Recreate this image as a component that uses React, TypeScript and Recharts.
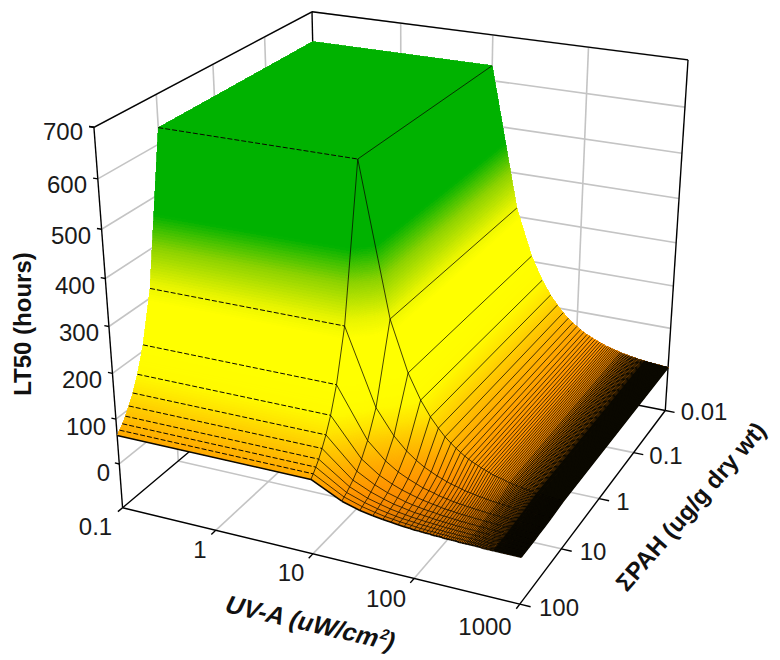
import { ScatterChart, Scatter, XAxis, YAxis } from "recharts";

const uvTicks = [0.1, 1, 10, 100, 1000];
const pahTicks = [0.01, 0.1, 1, 10, 100];
const zTicks = [0, 100, 200, 300, 400, 500, 600, 700];
const zFloor = -100;

const pahGrid = [0.01, 10, 20, 30, 40, 50, 60, 70, 80, 90, 100];
const uvGrid = [
  0.1,
  10, 20, 30, 40, 50, 60, 70, 80, 90, 100,
  110, 120, 130, 140, 150, 160, 170, 180, 190, 200,
  210, 220, 230, 240, 250, 260, 270, 280, 290, 300,
  310, 320, 330, 340, 350, 360, 370, 380, 390, 400,
  410, 420, 430, 440, 450, 460, 470, 480, 490, 500,
  510, 520, 530, 540, 550, 560, 570, 580, 590, 600,
  610, 620, 630, 640, 650, 660, 670, 680, 690, 700,
  710, 720, 730, 740, 750, 760, 770, 780, 790, 800,
  810, 820, 830, 840, 850, 860, 870, 880, 890, 900,
  910, 920, 930, 940, 950, 960, 970, 980, 990, 1000,
];

// LT50, one value per uvGrid entry
const lt50Pah001 = [
  633,
  633, 320, 213, 160, 128, 107, 91, 80, 71, 64,
  58, 53, 49, 46, 43, 40, 38, 36, 34, 32,
  30, 29, 28, 27, 26, 25, 24, 23, 22, 21,
  21, 20, 19, 19, 18, 18, 17, 17, 16, 16,
  16, 15, 15, 15, 14, 14, 14, 13, 13, 13,
  13, 12, 12, 12, 12, 11, 11, 11, 11, 11,
  10, 10, 10, 10, 10, 10, 10, 9, 9, 9,
  9, 9, 9, 9, 9, 8, 8, 8, 8, 8,
  8, 8, 8, 8, 8, 7, 7, 7, 7, 7,
  7, 7, 7, 7, 7, 7, 7, 7, 6, 6,
];
const lt50Pah10 = [
  633,
  633, 320, 213, 160, 128, 107, 91, 80, 71, 64,
  58, 53, 49, 46, 43, 40, 38, 36, 34, 32,
  30, 29, 28, 27, 26, 25, 24, 23, 22, 21,
  21, 20, 19, 19, 18, 18, 17, 17, 16, 16,
  16, 15, 15, 15, 14, 14, 14, 13, 13, 13,
  13, 12, 12, 12, 12, 11, 11, 11, 11, 11,
  10, 10, 10, 10, 10, 10, 10, 9, 9, 9,
  9, 9, 9, 9, 9, 8, 8, 8, 8, 8,
  8, 8, 8, 8, 8, 7, 7, 7, 7, 7,
  7, 7, 7, 7, 7, 7, 7, 7, 6, 6,
];
const lt50Pah20 = [
  320,
  320, 160, 107, 80, 64, 53, 46, 40, 36, 32,
  29, 27, 25, 23, 21, 20, 19, 18, 17, 16,
  15, 15, 14, 13, 13, 12, 12, 11, 11, 11,
  10, 10, 10, 9, 9, 9, 9, 8, 8, 8,
  8, 8, 7, 7, 7, 7, 7, 7, 7, 6,
  6, 6, 6, 6, 6, 6, 6, 6, 5, 5,
  5, 5, 5, 5, 5, 5, 5, 5, 5, 5,
  5, 4, 4, 4, 4, 4, 4, 4, 4, 4,
  4, 4, 4, 4, 4, 4, 4, 4, 4, 4,
  4, 3, 3, 3, 3, 3, 3, 3, 3, 3,
];
const lt50Pah30 = [
  213,
  213, 107, 71, 53, 43, 36, 30, 27, 24, 21,
  19, 18, 16, 15, 14, 13, 13, 12, 11, 11,
  10, 10, 9, 9, 9, 8, 8, 8, 7, 7,
  7, 7, 6, 6, 6, 6, 6, 6, 5, 5,
  5, 5, 5, 5, 5, 5, 5, 4, 4, 4,
  4, 4, 4, 4, 4, 4, 4, 4, 4, 4,
  3, 3, 3, 3, 3, 3, 3, 3, 3, 3,
  3, 3, 3, 3, 3, 3, 3, 3, 3, 3,
  3, 3, 3, 3, 3, 2, 2, 2, 2, 2,
  2, 2, 2, 2, 2, 2, 2, 2, 2, 2,
];
const lt50Pah40 = [
  160,
  160, 80, 53, 40, 32, 27, 23, 20, 18, 16,
  15, 13, 12, 11, 11, 10, 9, 9, 8, 8,
  8, 7, 7, 7, 6, 6, 6, 6, 6, 5,
  5, 5, 5, 5, 5, 4, 4, 4, 4, 4,
  4, 4, 4, 4, 4, 3, 3, 3, 3, 3,
  3, 3, 3, 3, 3, 3, 3, 3, 3, 3,
  3, 3, 2, 2, 2, 2, 2, 2, 2, 2,
  2, 2, 2, 2, 2, 2, 2, 2, 2, 2,
  2, 2, 2, 2, 2, 2, 2, 2, 2, 2,
  2, 2, 2, 2, 2, 2, 2, 2, 2, 2,
];
const lt50Pah50 = [
  128,
  128, 64, 43, 32, 26, 21, 18, 16, 14, 13,
  12, 11, 10, 9, 9, 8, 8, 7, 7, 6,
  6, 6, 6, 5, 5, 5, 5, 5, 4, 4,
  4, 4, 4, 4, 4, 4, 3, 3, 3, 3,
  3, 3, 3, 3, 3, 3, 3, 3, 3, 3,
  3, 2, 2, 2, 2, 2, 2, 2, 2, 2,
  2, 2, 2, 2, 2, 2, 2, 2, 2, 2,
  2, 2, 2, 2, 2, 2, 2, 2, 2, 2,
  2, 2, 2, 2, 2, 1, 1, 1, 1, 1,
  1, 1, 1, 1, 1, 1, 1, 1, 1, 1,
];
const lt50Pah60 = [
  107,
  107, 53, 36, 27, 21, 18, 15, 13, 12, 11,
  10, 9, 8, 8, 7, 7, 6, 6, 6, 5,
  5, 5, 5, 4, 4, 4, 4, 4, 4, 4,
  3, 3, 3, 3, 3, 3, 3, 3, 3, 3,
  3, 3, 2, 2, 2, 2, 2, 2, 2, 2,
  2, 2, 2, 2, 2, 2, 2, 2, 2, 2,
  2, 2, 2, 2, 2, 2, 2, 1, 1, 1,
  1, 1, 1, 1, 1, 1, 1, 1, 1, 1,
  1, 1, 1, 1, 1, 1, 1, 1, 1, 1,
  1, 1, 1, 1, 1, 1, 1, 1, 1, 1,
];
const lt50Pah70 = [
  91,
  91, 46, 30, 23, 18, 15, 13, 11, 10, 9,
  8, 8, 7, 7, 6, 6, 5, 5, 5, 5,
  4, 4, 4, 4, 4, 4, 3, 3, 3, 3,
  3, 3, 3, 3, 3, 3, 2, 2, 2, 2,
  2, 2, 2, 2, 2, 2, 2, 2, 2, 2,
  2, 2, 2, 2, 2, 2, 2, 2, 2, 2,
  1, 1, 1, 1, 1, 1, 1, 1, 1, 1,
  1, 1, 1, 1, 1, 1, 1, 1, 1, 1,
  1, 1, 1, 1, 1, 1, 1, 1, 1, 1,
  1, 1, 1, 1, 1, 1, 1, 1, 1, 1,
];
const lt50Pah80 = [
  80,
  80, 40, 27, 20, 16, 13, 11, 10, 9, 8,
  7, 7, 6, 6, 5, 5, 5, 4, 4, 4,
  4, 4, 3, 3, 3, 3, 3, 3, 3, 3,
  3, 3, 2, 2, 2, 2, 2, 2, 2, 2,
  2, 2, 2, 2, 2, 2, 2, 2, 2, 2,
  2, 2, 2, 1, 1, 1, 1, 1, 1, 1,
  1, 1, 1, 1, 1, 1, 1, 1, 1, 1,
  1, 1, 1, 1, 1, 1, 1, 1, 1, 1,
  1, 1, 1, 1, 1, 1, 1, 1, 1, 1,
  1, 1, 1, 1, 1, 1, 1, 1, 1, 1,
];
const lt50Pah90 = [
  71,
  71, 36, 24, 18, 14, 12, 10, 9, 8, 7,
  6, 6, 5, 5, 5, 4, 4, 4, 4, 4,
  3, 3, 3, 3, 3, 3, 3, 3, 2, 2,
  2, 2, 2, 2, 2, 2, 2, 2, 2, 2,
  2, 2, 2, 2, 2, 2, 2, 1, 1, 1,
  1, 1, 1, 1, 1, 1, 1, 1, 1, 1,
  1, 1, 1, 1, 1, 1, 1, 1, 1, 1,
  1, 1, 1, 1, 1, 1, 1, 1, 1, 1,
  1, 1, 1, 1, 1, 1, 1, 1, 1, 1,
  1, 1, 1, 1, 1, 1, 1, 1, 1, 1,
];
const lt50Pah100 = [
  64,
  64, 32, 21, 16, 13, 11, 9, 8, 7, 6,
  6, 5, 5, 5, 4, 4, 4, 4, 3, 3,
  3, 3, 3, 3, 3, 2, 2, 2, 2, 2,
  2, 2, 2, 2, 2, 2, 2, 2, 2, 2,
  2, 2, 1, 1, 1, 1, 1, 1, 1, 1,
  1, 1, 1, 1, 1, 1, 1, 1, 1, 1,
  1, 1, 1, 1, 1, 1, 1, 1, 1, 1,
  1, 1, 1, 1, 1, 1, 1, 1, 1, 1,
  1, 1, 1, 1, 1, 1, 1, 1, 1, 1,
  1, 1, 1, 1, 1, 1, 1, 1, 1, 1,
];
const lt50Rows = [
  lt50Pah001, lt50Pah10, lt50Pah20, lt50Pah30, lt50Pah40, lt50Pah50,
  lt50Pah60, lt50Pah70, lt50Pah80, lt50Pah90, lt50Pah100,
];

const FONT = "'Liberation Sans', Arial, sans-serif";
const GRID = "#c4c4c4";

const uPos = (uv: number) => (Math.log10(uv) + 1) / 4;
const vPos = (pah: number) => (Math.log10(pah) + 2) / 4;
const wPos = (z: number) => (z - zFloor) / (700 - zFloor);

// where known box points sit in the page: u, v, z, x, y
const anchors = [
  [0, 1, -100, 123.5, 504], [0.25, 1, -100, 213, 530], [0.5, 1, -100, 312, 553],
  [0.75, 1, -100, 412, 578], [1, 1, -100, 519, 603.5], [1, 0.75, -100, 563, 548],
  [1, 0.5, -100, 603, 498], [1, 0.25, -100, 638, 453], [1, 0, -100, 666, 410],
  [0, 0, 700, 312, 11], [0, 1, 700, 95, 126], [1, 0, 700, 689, 59],
  [0.25, 0, 700, 401, 23], [0.5, 0, 700, 493, 34], [0.75, 0, 700, 588, 47],
  [0, 0.25, 700, 265.7, 36], [0, 1, 600, 99, 179], [0, 1, 500, 102, 231],
  [0, 1, 400, 105, 279], [0, 1, 300, 107.5, 328], [0, 1, 200, 112, 375],
  [0, 1, 100, 116, 421], [0, 1, 0, 119.5, 465], [1, 0, 600, 685, 107],
  [1, 0, 500, 681, 153], [1, 0, 400, 678, 199], [1, 0, 300, 675, 244],
  [1, 0, 200, 672, 287], [1, 0, 100, 668, 330], [1, 0, 0, 667, 370],
];

// least squares fit of the 3D to 2D perspective camera
function fitCamera(): number[] {
  const n = 11;
  const A = Array.from({ length: n }, () => new Array(n + 1).fill(0));
  const add = (r: number[], b: number) => {
    for (let i = 0; i < n; i++) {
      for (let k = 0; k < n; k++) A[i][k] += r[i] * r[k];
      A[i][n] += r[i] * b;
    }
  };
  anchors.forEach(([u, v, z, x, y]) => {
    const w = wPos(z);
    add([u, v, w, 1, 0, 0, 0, 0, -x * u, -x * v, -x * w], x);
    add([0, 0, 0, 0, u, v, w, 1, -y * u, -y * v, -y * w], y);
  });
  for (let c = 0; c < n; c++) {
    let best = c;
    for (let r = c + 1; r < n; r++) if (Math.abs(A[r][c]) > Math.abs(A[best][c])) best = r;
    [A[c], A[best]] = [A[best], A[c]];
    for (let r = 0; r < n; r++) {
      if (r === c) continue;
      const f = A[r][c] / A[c][c];
      for (let k = c; k <= n; k++) A[r][k] -= f * A[c][k];
    }
  }
  return A.map((row, i) => row[n] / row[i]);
}
const cam = fitCamera();

const project = (u: number, v: number, z: number) => {
  const w = wPos(z);
  const d = cam[8] * u + cam[9] * v + cam[10] * w + 1;
  return {
    x: (cam[0] * u + cam[1] * v + cam[2] * w + cam[3]) / d,
    y: (cam[4] * u + cam[5] * v + cam[6] * w + cam[7]) / d,
  };
};

// colour against LT50
const colorStops: [number, number[]][] = [
  [0, [185, 98, 0]],
  [20, [245, 135, 0]],
  [40, [255, 150, 0]],
  [64, [255, 168, 0]],
  [107, [255, 205, 0]],
  [128, [255, 226, 0]],
  [160, [255, 250, 0]],
  [213, [255, 255, 0]],
  [295, [255, 255, 0]],
  [330, [232, 244, 0]],
  [400, [140, 210, 0]],
  [465, [0, 178, 0]],
  [700, [0, 178, 0]],
];
const shade = (z: number) => {
  for (let i = 1; i < colorStops.length; i++) {
    const [z1, c1] = colorStops[i];
    if (z <= z1) {
      const [z0, c0] = colorStops[i - 1];
      const t = (z - z0) / (z1 - z0);
      return `rgb(${c0.map((c, k) => Math.round(c + (c1[k] - c) * t)).join(",")})`;
    }
  }
  return "rgb(0,178,0)";
};

type Pt = { x: number; y: number };
type Cell = { x: number; y: number; polys: { pts: string; fill: string }[]; lines: { a: Pt; b: Pt; dash?: string; width: number }[] };

// one entry per mesh cell, back to front
const cells: Cell[] = [];
pahGrid.slice(0, -1).forEach((_, j) => {
  uvGrid.slice(0, -1).forEach((_, i) => {
    const u0 = uPos(uvGrid[i]);
    const u1 = uPos(uvGrid[i + 1]);
    const v0 = vPos(pahGrid[j]);
    const v1 = vPos(pahGrid[j + 1]);
    const z00 = lt50Rows[j][i];
    const z10 = lt50Rows[j][i + 1];
    const z01 = lt50Rows[j + 1][i];
    const z11 = lt50Rows[j + 1][i + 1];
    const c = project(u0, v0, z00);
    const rel = (p: Pt) => `${(p.x - c.x).toFixed(2)},${(p.y - c.y).toFixed(2)}`;
    const nu = Math.min(60, Math.max(1, Math.ceil(Math.max(Math.abs(z10 - z00), Math.abs(z11 - z01)) / 4)));
    const nv = Math.min(60, Math.max(1, Math.ceil(Math.max(Math.abs(z01 - z00), Math.abs(z11 - z10)) / 4)));
    const at = (s: number, t: number) => {
      const z = z00 * (1 - s) * (1 - t) + z10 * s * (1 - t) + z01 * (1 - s) * t + z11 * s * t;
      return { z, p: project(u0 + (u1 - u0) * s, v0 + (v1 - v0) * t, z) };
    };
    const polys = [];
    for (let b = 0; b < nv; b++) {
      for (let a = 0; a < nu; a++) {
        const q = [at(a / nu, b / nv), at((a + 1) / nu, b / nv), at((a + 1) / nu, (b + 1) / nv), at(a / nu, (b + 1) / nv)];
        polys.push({
          pts: q.map((k) => rel(k.p)).join(" "),
          fill: shade(at((a + 0.5) / nu, (b + 0.5) / nv).z),
        });
      }
    }
    const rp = (p: Pt) => ({ x: p.x - c.x, y: p.y - c.y });
    const lastRow = j === pahGrid.length - 2;
    const uvWidth = i >= 55 ? 1.5 : i >= 30 ? 1 : 0.75;
    const lines = [
      { a: rp(project(u1, v0, z10)), b: rp(project(u1, v1, z11)), width: uvWidth },
      {
        a: rp(project(u0, v1, z01)),
        b: rp(project(u1, v1, z11)),
        dash: i === 0 && !lastRow ? "5 2" : undefined,
        width: lastRow ? 1.6 : i === 0 ? 1 : 0.75,
      },
    ];
    cells.push({ x: c.x, y: c.y, polys, lines });
  });
});

const seg = (p: number[], q: number[]) => [
  project(p[0], p[1], p[2]),
  project(q[0], q[1], q[2]),
];

// grey lines on the two back walls and the floor
const gridSegments = [
  ...zTicks.map((z) => seg([0, 1, z], [0, 0, z])),
  ...zTicks.map((z) => seg([0, 0, z], [1, 0, z])),
  ...uvTicks.slice(1, -1).map((t) => seg([uPos(t), 0, zFloor], [uPos(t), 0, 700])),
  ...pahTicks.slice(1, -1).map((t) => seg([0, vPos(t), zFloor], [0, vPos(t), 700])),
  ...uvTicks.slice(1, -1).map((t) => seg([uPos(t), 0, zFloor], [uPos(t), 1, zFloor])),
  ...pahTicks.slice(1, -1).map((t) => seg([0, vPos(t), zFloor], [1, vPos(t), zFloor])),
];

const frameSegments = [
  seg([0, 1, zFloor], [0, 1, 700]),
  seg([0, 1, 700], [0, 0, 700]),
  seg([0, 0, 700], [1, 0, 700]),
  seg([1, 0, 700], [1, 0, zFloor]),
  seg([0, 0, 700], [0, 0, zFloor]),
  seg([0, 1, zFloor], [1, 1, zFloor]),
  seg([1, 1, zFloor], [1, 0, zFloor]),
  seg([0, 1, zFloor], [0, 0, zFloor]),
  seg([1, 0, zFloor], [0, 0, zFloor]),
  // tick marks
  ...[...zTicks, 700].map((z) => seg([0, 1, z], [-0.012, 1, z])),
  ...uvTicks.map((t) => seg([uPos(t), 1, zFloor], [uPos(t), 1.02, zFloor])),
  ...pahTicks.map((t) => seg([1, vPos(t), zFloor], [1.025, vPos(t), zFloor])),
];

const tickLabels = [
  { text: "700", x: 83, y: 140, anchor: "end" },
  { text: "600", x: 87, y: 193, anchor: "end" },
  { text: "500", x: 91, y: 244, anchor: "end" },
  { text: "400", x: 95, y: 294, anchor: "end" },
  { text: "300", x: 99, y: 341, anchor: "end" },
  { text: "200", x: 102, y: 388, anchor: "end" },
  { text: "100", x: 106, y: 435, anchor: "end" },
  { text: "0", x: 110, y: 481, anchor: "end" },
  { text: "0.1", x: 95.5, y: 535, anchor: "middle" },
  { text: "1", x: 200, y: 558, anchor: "middle" },
  { text: "10", x: 291, y: 581, anchor: "middle" },
  { text: "100", x: 386, y: 607, anchor: "middle" },
  { text: "1000", x: 485, y: 635, anchor: "middle" },
  { text: "0.01", x: 704, y: 420, anchor: "middle" },
  { text: "0.1", x: 666, y: 464, anchor: "middle" },
  { text: "1", x: 623, y: 510, anchor: "middle" },
  { text: "10", x: 593, y: 560, anchor: "middle" },
  { text: "100", x: 559, y: 616, anchor: "middle" },
];

const titleAnchors = [
  { x: 31, y: 324, key: "lt50" },
  { x: 307, y: 631, key: "uv" },
  { x: 697, y: 512, key: "pah" },
];

const noDot = () => <g />;

const MeshFill = (props: any) => {
  const { cx, cy, payload } = props;
  const cell: Cell = payload;
  return (
    <g transform={`translate(${cx},${cy})`}>
      {cell.polys.map((p, i) => (
        <polygon key={i} points={p.pts} fill={p.fill} stroke={p.fill} strokeWidth={0.8} shapeRendering="crispEdges" />
      ))}
    </g>
  );
};

const MeshLines = (props: any) => {
  const { cx, cy, payload } = props;
  const cell: Cell = payload;
  return (
    <g transform={`translate(${cx},${cy})`}>
      {cell.lines.map((l, i) => (
        <line
          key={i}
          x1={l.a.x}
          y1={l.a.y}
          x2={l.b.x}
          y2={l.b.y}
          stroke="#0a0800"
          strokeWidth={l.width}
          strokeDasharray={l.dash}
        />
      ))}
    </g>
  );
};

const TickLabel = (props: any) => {
  const { cx, cy, payload } = props;
  return (
    <text x={cx} y={cy} textAnchor={payload.anchor} fontFamily={FONT} fontSize={24} fill="#1a1a1a">
      {payload.text}
    </text>
  );
};

const AxisTitle = (props: any) => {
  const { cx, cy, payload } = props;
  const common = { fontFamily: FONT, fontWeight: 700, fontSize: 24, fill: "#111", textAnchor: "middle" as const };
  if (payload.key === "lt50") {
    return (
      <text {...common} transform={`translate(${cx},${cy}) rotate(-90)`}>
        LT50 (hours)
      </text>
    );
  }
  if (payload.key === "uv") {
    return (
      <text {...common} fontSize={25} transform={`translate(${cx},${cy}) rotate(13) skewX(-12)`}>
        UV-A (uW/cm
        <tspan fontSize={15} dy={-9}>2</tspan>
        <tspan dy={9}>)</tspan>
      </text>
    );
  }
  return (
    <text {...common} transform={`translate(${cx},${cy}) rotate(-49)`}>
      ΣPAH (ug/g dry wt)
    </text>
  );
};

export default function App() {
  return (
    <div style={{ position: "absolute", left: 0, top: 0, width: 780, height: 660, background: "#fff" }}>
      <ScatterChart width={780} height={660} margin={{ top: 0, right: 0, bottom: 0, left: 0 }}>
        <XAxis type="number" dataKey="x" domain={[0, 780]} hide allowDataOverflow />
        <YAxis type="number" dataKey="y" domain={[0, 660]} reversed hide allowDataOverflow />
        {gridSegments.map((s, i) => (
          <Scatter key={`g${i}`} data={s} shape={noDot} line={{ stroke: GRID, strokeWidth: 1.6 }} isAnimationActive={false} />
        ))}
        {frameSegments.map((s, i) => (
          <Scatter key={`f${i}`} data={s} shape={noDot} line={{ stroke: "#000", strokeWidth: 1.4 }} isAnimationActive={false} />
        ))}
        <Scatter data={cells} shape={MeshFill} isAnimationActive={false} />
        <Scatter data={cells} shape={MeshLines} isAnimationActive={false} />
        <Scatter data={tickLabels} shape={TickLabel} isAnimationActive={false} />
        <Scatter data={titleAnchors} shape={AxisTitle} isAnimationActive={false} />
      </ScatterChart>
    </div>
  );
}
